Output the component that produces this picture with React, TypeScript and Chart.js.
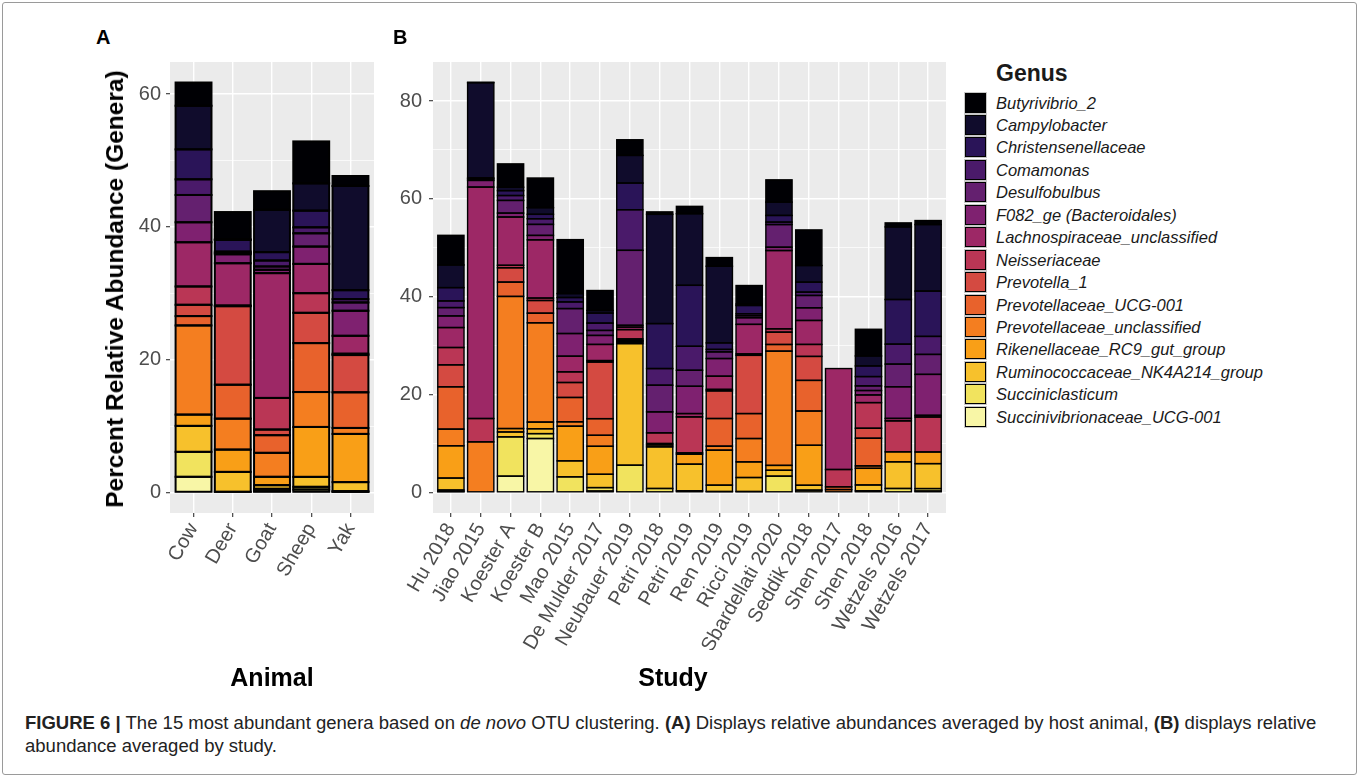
import React, { useEffect, useLayoutEffect, useRef } from 'react';
import { Chart, registerables } from 'chart.js';

Chart.register(...registerables);

const FONT = "'Liberation Sans', Arial, Helvetica, sans-serif";

// ---------- categories ----------
const animals = ['Cow', 'Deer', 'Goat', 'Sheep', 'Yak'];
const studies = [
  'Hu 2018', 'Jiao 2015', 'Koester A', 'Koester B', 'Mao 2015', 'De Mulder 2017',
  'Neubauer 2019', 'Petri 2018', 'Petri 2019', 'Ren 2019', 'Ricci 2019',
  'Sbardellati 2020', 'Seddik 2018', 'Shen 2017', 'Shen 2018', 'Wetzels 2016', 'Wetzels 2017',
];

// legend order (top of stack first)
const genera = [
  'Butyrivibrio_2', 'Campylobacter', 'Christensenellaceae', 'Comamonas', 'Desulfobulbus',
  'F082_ge (Bacteroidales)', 'Lachnospiraceae_unclassified', 'Neisseriaceae', 'Prevotella_1',
  'Prevotellaceae_UCG-001', 'Prevotellaceae_unclassified', 'Rikenellaceae_RC9_gut_group',
  'Ruminococcaceae_NK4A214_group', 'Succiniclasticum', 'Succinivibrionaceae_UCG-001',
];
const genusColors = [
  '#000004', '#100C2C', '#2A1458', '#4A1A6A', '#64206F', '#7F2170', '#9D2866', '#BA3655',
  '#D44A41', '#E8622C', '#F47E20', '#F99F17', '#F7C12C', '#F1E35E', '#F8F6A6',
];

// ---------- panel A: by animal (Cow, Deer, Goat, Sheep, Yak) ----------
const butyrivibrioA = [3.5, 4.11, 2.81, 6.32, 1.5];
const campylobacterA = [6.57, 0.1, 6.37, 4.11, 15.7];
const christensenA = [4.51, 1.75, 1.26, 2.51, 1.35];
const comamonasA = [2.36, 0.2, 0.9, 0.9, 0.5];
const desulfobulbusA = [4.11, 0.2, 0.5, 2.0, 1.25];
const f082A = [3.01, 1.35, 0.5, 2.61, 3.77];
const lachnoA = [6.66, 6.37, 18.8, 4.41, 2.7];
const neisseriaceaeA = [2.76, 0.1, 4.76, 2.96, 0.2];
const prevotella1A = [1.7, 11.83, 0.85, 4.56, 5.61];
const prevUcgA = [1.41, 5.11, 2.66, 7.37, 5.37];
const prevUnclA = [13.43, 4.66, 3.61, 5.26, 0.9];
const rikenellaA = [1.7, 3.36, 1.26, 7.52, 7.26];
const ruminoA = [3.91, 3.0, 0.55, 1.5, 1.36];
const succiniclA = [3.76, 0.1, 0.35, 0.4, 0.1];
const succinivibA = [2.36, 0, 0.2, 0.45, 0.1];

// ---------- panel B: by study ----------
const butyrivibrioB = [6.06, 0.1, 4.77, 6.06, 11.03, 4.08, 3.2, 0.5, 1.5, 1.77, 3.78, 4.56, 7.28, 0, 5.45, 0.82, 0.82];
const campylobacterB = [4.63, 19.47, 0.7, 1.36, 0.8, 0.54, 5.65, 22.33, 14.64, 15.66, 0.3, 2.72, 3.4, 0, 2.04, 14.84, 13.6];
const christensenB = [2.72, 0.2, 1.0, 0.9, 0.9, 2.04, 5.45, 9.19, 12.46, 1.34, 1.7, 1.36, 2.04, 0, 2.18, 9.12, 9.26];
const comamonasB = [1.36, 0, 1.0, 1.16, 1.36, 1.5, 8.3, 3.4, 4.9, 0.5, 0.4, 0.5, 0.68, 0, 1.9, 4.08, 3.68];
const desulfobulbusB = [1.7, 0.3, 2.59, 2.25, 5.1, 1.02, 15.32, 5.45, 3.27, 1.36, 0.4, 4.63, 2.52, 0, 0.95, 4.63, 4.08];
const f082B = [2.38, 1.36, 0.8, 0.9, 4.63, 1.84, 0.38, 4.29, 5.58, 3.61, 1.36, 0.68, 2.59, 0, 0.9, 6.47, 8.37];
const lachnoB = [4.08, 47.3, 9.87, 11.9, 3.2, 3.3, 0.5, 0, 0.68, 2.7, 6.03, 16.0, 4.9, 20.63, 1.57, 0.5, 0.34];
const neisseriaceaeB = [3.54, 4.77, 0.5, 0.5, 2.18, 0.3, 1.91, 2.18, 7.35, 0.3, 0.3, 0.68, 2.45, 3.54, 5.24, 6.33, 7.15];
const prevotella1B = [4.49, 0, 2.93, 2.59, 3.06, 11.57, 0.3, 0, 0, 5.65, 11.9, 2.52, 4.9, 0, 2.04, 0, 0];
const prevUcgB = [8.65, 0, 2.93, 1.97, 4.97, 3.4, 0.15, 0, 0, 5.65, 5.1, 1.36, 6.26, 0.56, 5.65, 0, 0];
const prevUnclB = [3.4, 10.35, 27.0, 20.29, 0.9, 2.25, 0.2, 0.3, 0.27, 0.82, 4.77, 23.35, 7.0, 0.6, 0.5, 0, 0];
const rikenellaB = [6.6, 0, 0.7, 1.36, 7.08, 5.72, 0.3, 0.38, 2.04, 7.15, 3.2, 1.0, 8.17, 0, 3.4, 2.04, 2.38];
const ruminoB = [2.45, 0, 1.0, 1.0, 3.27, 2.72, 24.85, 8.51, 5.45, 1.3, 2.86, 1.2, 1.0, 0, 1.2, 5.45, 5.1];
const succiniclB = [0.3, 0, 8.03, 1.0, 3.2, 0.7, 5.58, 0.82, 0.34, 0.2, 0.2, 3.34, 0.48, 0, 0.34, 0.82, 0.5];
const succinivibB = [0.2, 0, 3.34, 11.03, 0, 0.3, 0, 0, 0, 0, 0, 0, 0, 0, 0, 0, 0.3];

// ---------- axis ticks ----------
const yTicksA = [0, 10, 20, 30, 40, 50, 60];
const yTicksB = [0, 10, 20, 30, 40, 50, 60, 70, 80];
const yRangeA = [-3.09, 64.84];
const yRangeB = [-4.19, 87.98];

const seriesA = [butyrivibrioA, campylobacterA, christensenA, comamonasA, desulfobulbusA, f082A, lachnoA,
  neisseriaceaeA, prevotella1A, prevUcgA, prevUnclA, rikenellaA, ruminoA, succiniclA, succinivibA];
const seriesB = [butyrivibrioB, campylobacterB, christensenB, comamonasB, desulfobulbusB, f082B, lachnoB,
  neisseriaceaeB, prevotella1B, prevUcgB, prevUnclB, rikenellaB, ruminoB, succiniclB, succinivibB];

const panelBg = {
  id: 'panelBg',
  beforeDraw(chart: any) {
    const { ctx, chartArea: a } = chart;
    ctx.save();
    ctx.fillStyle = '#EBEBEB';
    ctx.fillRect(a.left, a.top, a.right - a.left, a.bottom - a.top);
    ctx.restore();
  },
};

// black outline around every stacked segment, centred on the segment edges (like ggplot's colour = "black")
const segmentOutline = {
  id: 'segmentOutline',
  afterDatasetsDraw(chart: any, _args: any, opts: any) {
    const ctx = chart.ctx;
    ctx.save();
    ctx.strokeStyle = '#000000';
    ctx.lineWidth = opts.width || 1;
    chart.data.datasets.forEach((ds: any, di: number) => {
      const meta = chart.getDatasetMeta(di);
      meta.data.forEach((bar: any, i: number) => {
        const v = ds.data[i].y;
        if (!v) return;
        const p = bar.getProps(['x', 'y', 'base', 'width'], true);
        ctx.strokeRect(p.x - p.width / 2, Math.min(p.y, p.base), p.width, Math.abs(p.base - p.y));
      });
    });
    ctx.restore();
  },
};

function buildConfig(cats: string[], series: number[][], yTicks: number[], yRange: number[], opt: any) {
  const datasets = genera
    .map((g, gi) => ({
      label: g,
      data: series[gi].map((v, i) => ({ x: i, y: v })),
      backgroundColor: genusColors[gi],
      borderWidth: 0,
      inflateAmount: 0,
      barPercentage: opt.barPct,
      categoryPercentage: 1,
    }))
    .reverse();
  const tickFont = { family: FONT, size: 20 };
  return {
    type: 'bar',
    data: { datasets },
    plugins: [panelBg, segmentOutline],
    options: {
      animation: false,
      responsive: false,
      maintainAspectRatio: false,
      devicePixelRatio: 1,
      layout: { padding: { top: 32, right: opt.padRight, bottom: 40, left: 0 } },
      plugins: {
        legend: { display: false },
        tooltip: { enabled: false },
        segmentOutline: { width: opt.outline },
      },
      scales: {
        x: {
          type: 'linear',
          min: -0.6,
          max: cats.length - 0.4,
          stacked: true,
          offset: false,
          afterBuildTicks: (s: any) => { s.ticks = cats.map((_, i) => ({ value: i })); },
          afterFit: (s: any) => { s.height = 137; },
          grid: { offset: false, color: '#FFFFFF', lineWidth: 1.4, tickColor: '#333333', tickLength: 4, tickWidth: 1.1 },
          border: { display: false },
          ticks: {
            autoSkip: false, minRotation: 60, maxRotation: 60, padding: 2,
            color: '#4D4D4D', font: tickFont,
            callback: (v: any) => cats[v],
          },
        },
        y: {
          type: 'linear',
          min: yRange[0],
          max: yRange[1],
          stacked: true,
          afterBuildTicks: (s: any) => { s.ticks = yTicks.map((v) => ({ value: v })); },
          afterFit: (s: any) => { s.width = opt.yAxisW; },
          grid: {
            color: '#FFFFFF',
            lineWidth: (c: any) => (c.tick && c.tick.value % 20 === 0 ? 1.4 : 0.7),
            tickColor: (c: any) => (c.tick && c.tick.value % 20 === 0 ? '#333333' : 'rgba(0,0,0,0)'),
            tickLength: 4,
            tickWidth: 1.1,
          },
          border: { display: false },
          ticks: {
            padding: opt.yPad, color: '#4D4D4D', font: tickFont,
            callback: (v: any) => (v % 20 === 0 ? String(v) : ''),
          },
        },
      },
    },
  };
}

function Panel(props: { left: number; top: number; width: number; height: number; cfg: any }) {
  const ref = useRef<HTMLCanvasElement>(null);
  useEffect(() => {
    const chart = new Chart(ref.current as HTMLCanvasElement, props.cfg);
    return () => chart.destroy();
  }, []);
  return (
    <canvas
      ref={ref}
      width={props.width}
      height={props.height}
      style={{ position: 'absolute', left: props.left, top: props.top, width: props.width, height: props.height }}
    />
  );
}

const abs = (extra: any) => ({ position: 'absolute', fontFamily: FONT, whiteSpace: 'nowrap', ...extra });

export default function App() {
  const cfgA = buildConfig(animals, seriesA, yTicksA, yRangeA, { outline: 2.0, barPct: 0.915, yAxisW: 45, padRight: 6, yPad: 5 });
  const cfgB = buildConfig(studies, seriesB, yTicksB, yRangeB, { outline: 1.4, barPct: 0.88, yAxisW: 43, padRight: 12, yPad: 7 });
  const line1 = useRef<HTMLDivElement>(null);
  const line2 = useRef<HTMLDivElement>(null);
  useLayoutEffect(() => {
    const el = line1.current;
    if (!el) return;
    const w = el.offsetWidth;
    const size = (16 * 1292) / w;
    el.style.fontSize = size + 'px';
    if (line2.current) line2.current.style.fontSize = size + 'px';
  }, []);

  return (
    <div style={{ position: 'absolute', left: 0, top: 0, width: 1360, height: 778, background: '#FFFFFF', overflow: 'hidden' }}>
      <div style={{ position: 'absolute', left: 2, top: 2, width: 1353, height: 771, border: '1px solid #9A9A9A', borderRadius: 3 }} />
      <Panel left={125} top={30} width={255} height={660} cfg={cfgA} />
      <Panel left={390} top={30} width={568} height={660} cfg={cfgB} />

      <div style={abs({ left: 96, top: 26, fontSize: 20, fontWeight: 'bold' })}>A</div>
      <div style={abs({ left: 393, top: 26, fontSize: 20, fontWeight: 'bold' })}>B</div>

      <div style={abs({ left: 115, top: 289, fontSize: 24.5, fontWeight: 'bold', transform: 'translate(-50%, -50%) rotate(-90deg)' })}>
        Percent Relative Abundance (Genera)
      </div>
      <div style={abs({ left: 272, top: 677, fontSize: 25, fontWeight: 'bold', transform: 'translate(-50%, -50%)' })}>Animal</div>
      <div style={abs({ left: 673, top: 677, fontSize: 25, fontWeight: 'bold', transform: 'translate(-50%, -50%)' })}>Study</div>

      <div style={abs({ left: 996, top: 73, fontSize: 23, fontWeight: 'bold', transform: 'translateY(-50%)', color: '#1A1A1A' })}>Genus</div>
      {genera.map((g, i) => {
        const top = 91.5 + 22.45 * i;
        return (
          <React.Fragment key={g}>
            <div style={{ position: 'absolute', left: 964, top, width: 23, height: 22, background: '#C8C8C8' }} />
            <div style={{ position: 'absolute', left: 965, top: top + 1, width: 21, height: 20, boxSizing: 'border-box', border: '1.5px solid #000', background: genusColors[i] }} />
            <div style={abs({ left: 996, top: top + 11, fontSize: 16.5, fontStyle: 'italic', color: '#1A1A1A', transform: 'translateY(-50%)' })}>{g}</div>
          </React.Fragment>
        );
      })}

      <div ref={line1} style={abs({ left: 25, top: 723, fontSize: 16, color: '#222', transform: 'translateY(-50%)' })}>
        <b>FIGURE 6 |</b> The 15 most abundant genera based on <i>de novo</i> OTU clustering. <b>(A)</b> Displays relative abundances averaged by host animal, <b>(B)</b> displays relative
      </div>
      <div ref={line2} style={abs({ left: 25, top: 746, fontSize: 16, color: '#222', transform: 'translateY(-50%)' })}>
        abundance averaged by study.
      </div>
    </div>
  );
}
